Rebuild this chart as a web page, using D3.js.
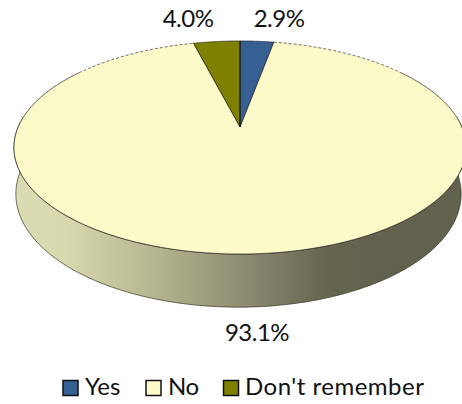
<!DOCTYPE html>
<html><head><meta charset="utf-8">
<script src="https://cdnjs.cloudflare.com/ajax/libs/d3/7.8.5/d3.min.js"></script>
<style>html,body{margin:0;padding:0;background:#fff}svg{display:block}text{font-family:Lato,sans-serif;fill:#111}</style>
</head><body><svg id="c" width="462" height="404"></svg>
<script>
const categories=["Yes","No","Don't remember"];
const values=[2.9,93.1,4.0];
const labels=["2.9%","93.1%","4.0%"];
const colors=["#376092","#FCFAC8","#7F7F00"];
const svg=d3.select("#c");
const defs=svg.append("defs");
const grad=defs.append("linearGradient").attr("id","side").attr("gradientUnits","userSpaceOnUse").attr("x1",13).attr("x2",462).attr("y1",0).attr("y2",0);
[[0,"#dcdcb4"],[0.12,"#d8d8ae"],[0.3,"#b8b892"],[0.5,"#908f74"],[0.7,"#65654f"],[0.8,"#62624e"],[1,"#62624e"]].forEach(([o,c])=>grad.append("stop").attr("offset",o).attr("stop-color",c));

const pie=d3.pie().sort(null).value(d=>d)(values);
const k=0.1925,cx=240,cy=127,a=221.8,b=102.6;
const proj=t=>{const u=Math.sin(t),v=-Math.cos(t),w=1-k*v;return [cx+a*u/w,cy+b*v/w];};
const low=t=>{const [x,y]=proj(t);return [238.5+(x-240)*0.985,194+(y-147.5)*1.062];};
const line=d3.line();
const arcPts=(f,s,e)=>d3.range(0,181).map(i=>f(s+(e-s)*i/180));

const big=pie[1];
const s0=Math.max(big.startAngle,Math.PI*0.47),s1=Math.min(big.endAngle,Math.PI*1.53);
svg.append("path").attr("d",line(arcPts(proj,s0,s1).concat(arcPts(low,s1,s0)))+"Z")
  .attr("fill","url(#side)").attr("stroke","#33331f").attr("stroke-width",0.7);

pie.forEach((p,i)=>{
  svg.append("path").attr("d",line([[cx,cy]].concat(arcPts(proj,p.startAngle,p.endAngle)))+"Z")
    .attr("fill",colors[i]).attr("stroke","none");
});
const rim=(s,e,dash)=>svg.append("path").attr("d",line(arcPts(proj,s,e)))
  .attr("fill","none").attr("stroke","#222").attr("stroke-width",0.7).attr("stroke-dasharray",dash);
pie.forEach((p,i)=>{
  if(i===1){
    rim(p.startAngle,Math.PI*0.3,"3 2");
    rim(Math.PI*0.3,Math.PI*1.7,null);
    rim(Math.PI*1.7,p.endAngle,"3 2");
  } else rim(p.startAngle,p.endAngle,null);
  if(i!==1)[p.startAngle,p.endAngle].forEach(t=>{
    svg.append("path").attr("d",line([[cx,cy],proj(t)])).attr("stroke","#111").attr("stroke-width",0.8);
  });
});

const lx=[279,257,188],ly=[27,341,27];
labels.forEach((t,i)=>svg.append("text").attr("x",lx[i]).attr("y",ly[i]).attr("text-anchor","middle").attr("font-size",24).attr("letter-spacing",-0.5).text(t));

const legX=[63,146,223.5],txtX=[85,168,245],spacing=[0,-0.4,0.5];
categories.forEach((c,i)=>{
  svg.append("rect").attr("x",legX[i]).attr("y",380.5).attr("width",15).attr("height",15)
    .attr("fill",colors[i]).attr("stroke","#111").attr("stroke-width",1.5);
  svg.append("text").attr("x",txtX[i]).attr("y",395).attr("font-size",24).attr("letter-spacing",spacing[i]).text(c);
});
</script></body></html>
